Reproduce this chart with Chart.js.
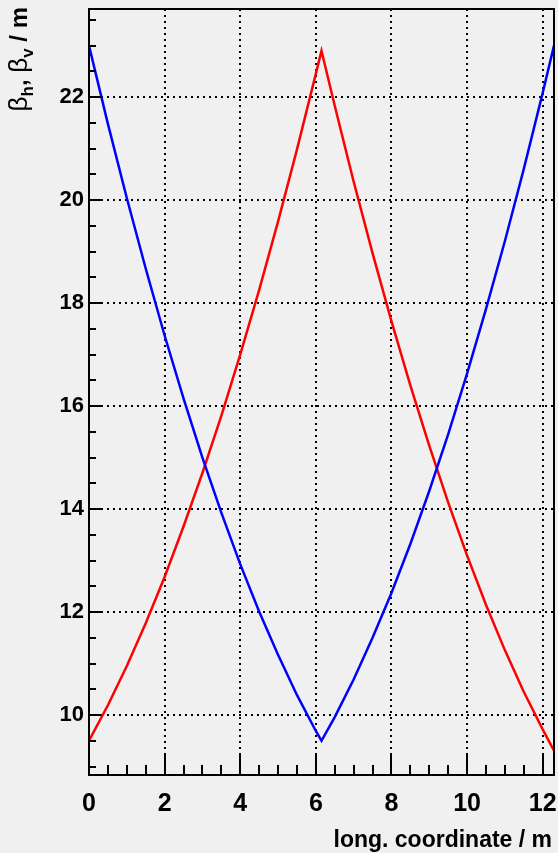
<!DOCTYPE html>
<html>
<head>
<meta charset="utf-8">
<script src="https://cdn.jsdelivr.net/npm/chart.js@4.4.1/dist/chart.umd.min.js"></script>
<style>
  html, body { margin: 0; padding: 0; background: #f0f0f0; }
  canvas { display: block; }
</style>
</head>
<body>
<canvas id="beta" width="558" height="853"></canvas>
<script>
// longitudinal position (m) and beta function (m)
const sBlue    = [0, 0.5, 1.0, 1.5, 2.0, 2.5, 3.0, 3.5, 4.0, 4.5, 5.0, 5.5, 6.0, 6.15,
                  6.5, 7.0, 7.5, 8.0, 8.5, 9.0, 9.5, 10.0, 10.5, 11.0, 11.5, 12.0, 12.3];
const betaBlue = [23.0, 21.48, 20.04, 18.67, 17.37, 16.15, 15.0, 13.93, 12.93, 12.01, 11.17, 10.39, 9.69, 9.5,
                  9.96, 10.69, 11.5, 12.37, 13.32, 14.35, 15.45, 16.63, 17.88, 19.2, 20.6, 22.08, 23.0];

const sRed    = [0, 0.5, 1.0, 1.5, 2.0, 2.5, 3.0, 3.5, 4.0, 4.5, 5.0, 5.5, 6.0, 6.15,
                 6.5, 7.0, 7.5, 8.0, 8.5, 9.0, 9.5, 10.0, 10.5, 11.0, 11.5, 12.0, 12.3];
const betaRed = [9.5, 10.19, 10.95, 11.78, 12.68, 13.66, 14.7, 15.81, 17.0, 18.25, 19.58, 20.98, 22.45, 22.9,
                 21.83, 20.36, 18.97, 17.65, 16.4, 15.23, 14.13, 13.1, 12.14, 11.26, 10.45, 9.72, 9.31];

const xTicks = [0, 2, 4, 6, 8, 10, 12];
const yTicks = [10, 12, 14, 16, 18, 20, 22];

const FONT = '"Liberation Sans", Arial, sans-serif';

const toPoints = (xs, ys) => xs.map((x, i) => ({ x: x, y: ys[i] }));

const frame = {
  id: 'frame',
  beforeDraw(chart) {
    const { ctx, width, height } = chart;
    ctx.save();
    ctx.fillStyle = '#f0f0f0';
    ctx.fillRect(0, 0, width, height);
    ctx.restore();
  },
  afterDraw(chart) {
    const { ctx, chartArea: a, scales: { x, y } } = chart;
    ctx.save();
    ctx.strokeStyle = '#000';
    ctx.lineWidth = 2;
    ctx.strokeRect(a.left, a.top, a.right - a.left, a.bottom - a.top);

    // tick marks point into the frame, minor every 0.5
    ctx.beginPath();
    for (let v = 0; v <= x.max + 1e-9; v += 0.5) {
      const px = Math.round(x.getPixelForValue(v));
      const len = v % 2 === 0 ? 20 : 10;
      ctx.moveTo(px, a.bottom);
      ctx.lineTo(px, a.bottom - len);
    }
    for (let v = Math.ceil(y.min * 2) / 2; v <= y.max; v += 0.5) {
      const py = Math.round(y.getPixelForValue(v));
      const len = v % 2 === 0 ? 12 : 7;
      ctx.moveTo(a.left, py);
      ctx.lineTo(a.left + len, py);
    }
    ctx.stroke();

    // x title
    ctx.fillStyle = '#000';
    ctx.font = 'bold 23px ' + FONT;
    ctx.textAlign = 'right';
    ctx.textBaseline = 'alphabetic';
    ctx.fillText('long. coordinate / m', 552, 847);

    // y title with subscripts, rotated
    const parts = [
      ['β', 'normal 26px ' + FONT, 0],
      ['h', 'bold 17px ' + FONT, 6],
      [', ', 'bold 24px ' + FONT, 0],
      ['β', 'normal 26px ' + FONT, 0],
      ['v', 'bold 17px ' + FONT, 6],
      [' / m', 'bold 24px ' + FONT, 0]
    ];
    let total = 0;
    parts.forEach(p => { ctx.font = p[1]; total += ctx.measureText(p[0]).width; });
    ctx.translate(27, 7);
    ctx.rotate(-Math.PI / 2);
    ctx.textAlign = 'left';
    let cx = -total;
    parts.forEach(p => {
      ctx.font = p[1];
      ctx.fillText(p[0], cx, p[2]);
      cx += ctx.measureText(p[0]).width;
    });
    ctx.restore();
  }
};

new Chart(document.getElementById('beta'), {
  type: 'line',
  data: {
    datasets: [
      {
        data: toPoints(sBlue, betaBlue),
        borderColor: '#0000ff',
        borderWidth: 2.5,
        pointRadius: 0,
        tension: 0
      },
      {
        data: toPoints(sRed, betaRed),
        borderColor: '#ff0000',
        borderWidth: 2.5,
        pointRadius: 0,
        tension: 0
      }
    ]
  },
  options: {
    responsive: false,
    devicePixelRatio: 1,
    animation: false,
    layout: { padding: { top: 9, right: 4, left: 0, bottom: 0 } },
    plugins: { legend: { display: false }, tooltip: { enabled: false } },
    scales: {
      x: {
        type: 'linear',
        min: 0,
        max: 12.3,
        afterBuildTicks: axis => { axis.ticks = xTicks.map(v => ({ value: v })); },
        afterFit: axis => {
          axis.height = 78;
          axis.paddingLeft = 0;
          axis.paddingRight = 0;
        },
        grid: { color: '#000', lineWidth: 2, drawTicks: false },
        border: { display: false, dash: [2, 4] },
        ticks: {
          color: '#000',
          padding: 14,
          maxRotation: 0,
          font: { family: FONT, size: 25, weight: 'bold' }
        }
      },
      y: {
        type: 'linear',
        min: 8.835,
        max: 23.71,
        afterBuildTicks: axis => { axis.ticks = yTicks.map(v => ({ value: v })); },
        afterFit: axis => {
          axis.width = 89;
          axis.paddingTop = 0;
          axis.paddingBottom = 0;
        },
        grid: { color: '#000', lineWidth: 2, drawTicks: false },
        border: { display: false, dash: [2, 4] },
        ticks: {
          color: '#000',
          padding: 5,
          font: { family: FONT, size: 22, weight: 'bold' }
        }
      }
    }
  },
  plugins: [frame]
});
</script>
</body>
</html>
